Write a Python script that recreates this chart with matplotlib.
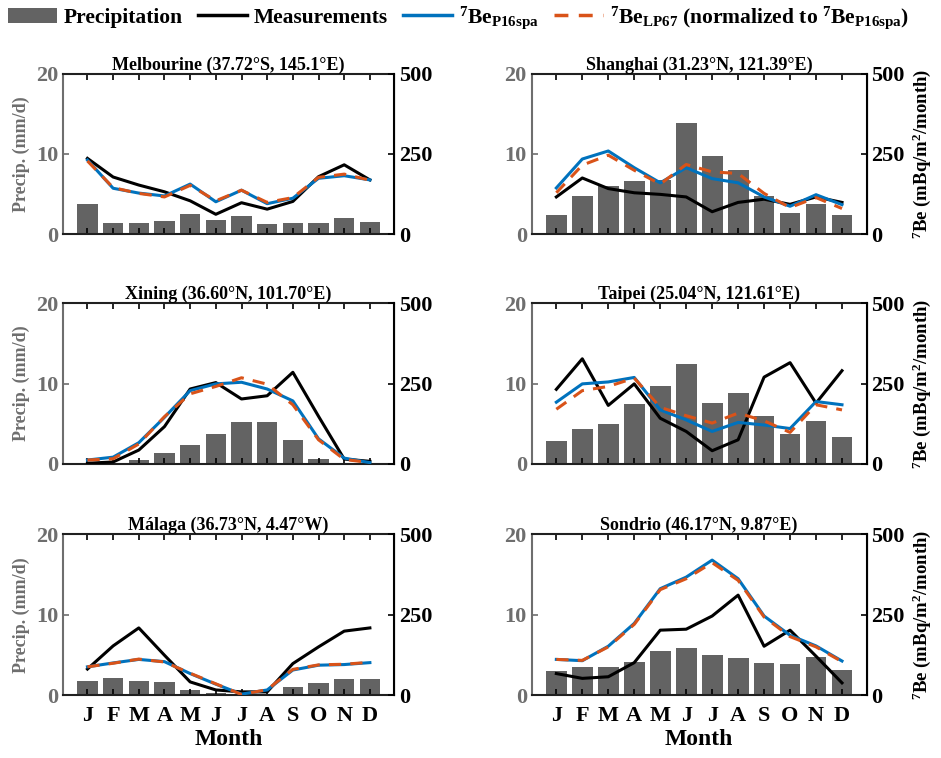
import matplotlib
matplotlib.use('Agg')
import matplotlib.pyplot as plt
from matplotlib.patches import Patch
from matplotlib.lines import Line2D
import numpy as np

plt.rcParams['font.family'] = ['Liberation Serif', 'DejaVu Serif']
plt.rcParams['font.weight'] = 'bold'
plt.rcParams['mathtext.fontset'] = 'custom'
plt.rcParams['mathtext.rm'] = 'Liberation Serif:bold'
plt.rcParams['mathtext.bf'] = 'Liberation Serif:bold'
plt.rcParams['mathtext.it'] = 'Liberation Serif:bold'
plt.rcParams['mathtext.default'] = 'rm'

months = ['J', 'F', 'M', 'A', 'M', 'J', 'J', 'A', 'S', 'O', 'N', 'D']

titles = ['Melbourine (37.72°S, 145.1°E)', 'Shanghai (31.23°N, 121.39°E)',
          'Xining (36.60°N, 101.70°E)', 'Taipei (25.04°N, 121.61°E)',
          'Málaga (36.73°N, 4.47°W)', 'Sondrio (46.17°N, 9.87°E)']

# precipitation (mm/d)
precip_melbourne = [3.7, 1.4, 1.4, 1.7, 2.5, 1.8, 2.3, 1.25, 1.4, 1.4, 2.0, 1.5]
precip_shanghai = [2.45, 4.7, 6.0, 6.6, 6.8, 13.9, 9.75, 7.95, 4.8, 2.7, 3.7, 2.4]
precip_xining = [0.05, 0.1, 0.5, 1.4, 2.3, 3.7, 5.2, 5.2, 3.0, 0.65, 0.0, 0.0]
precip_taipei = [2.9, 4.4, 5.0, 7.5, 9.75, 12.4, 7.55, 8.8, 6.0, 3.75, 5.4, 3.3]
precip_malaga = [1.8, 2.1, 1.8, 1.6, 0.65, 0.3, 0.1, 0.0, 0.95, 1.55, 1.95, 2.05]
precip_sondrio = [3.0, 3.45, 3.5, 4.1, 5.45, 5.9, 4.95, 4.6, 3.95, 3.85, 4.7, 3.1]

# measured 7Be deposition (mBq/m2/month)
meas_melbourne = [236, 178, 153, 132, 104, 62, 98, 78, 102, 179, 216, 169]
meas_shanghai = [116, 175, 142, 129, 124, 116, 70, 99, 109, 93, 116, 99]
meas_xining = [2, 6, 43, 116, 233, 253, 202, 212, 285, 148, 15, 8]
meas_taipei = [232, 327, 182, 249, 142, 101, 41, 75, 270, 315, 189, 290]
meas_malaga = [81, 153, 209, 124, 41, 16, 10, 10, 98, 150, 199, 209]
meas_sondrio = [67, 52, 57, 101, 202, 205, 246, 311, 152, 202, 121, 38]

# modelled 7Be, P16spa scheme
p16_melbourne = [231, 143, 128, 119, 156, 101, 137, 95, 112, 174, 182, 169]
p16_shanghai = [144, 234, 259, 207, 160, 207, 173, 160, 116, 87, 123, 92]
p16_xining = [12, 21, 66, 145, 228, 249, 254, 233, 196, 78, 18, 4]
p16_taipei = [192, 249, 255, 269, 168, 137, 101, 129, 121, 110, 194, 184]
p16_malaga = [88, 100, 111, 104, 67, 34, 3, 16, 78, 93, 95, 101]
p16_sondrio = [111, 107, 152, 223, 331, 367, 420, 362, 246, 186, 153, 106]

# modelled 7Be, LP67 scheme (normalized to P16spa)
lp67_melbourne = [228, 145, 127, 116, 152, 104, 137, 99, 114, 177, 187, 168]
lp67_shanghai = [129, 215, 246, 199, 156, 217, 194, 189, 127, 83, 114, 80]
lp67_xining = [12, 16, 62, 147, 218, 241, 268, 248, 184, 75, 14, 4]
lp67_taipei = [170, 228, 241, 267, 176, 150, 127, 158, 134, 98, 184, 168]
lp67_malaga = [88, 99, 112, 103, 68, 35, 2, 17, 80, 94, 96, 102]
lp67_sondrio = [111, 108, 150, 220, 328, 362, 412, 357, 243, 182, 150, 104]

precip = [precip_melbourne, precip_shanghai, precip_xining,
          precip_taipei, precip_malaga, precip_sondrio]
meas = [meas_melbourne, meas_shanghai, meas_xining,
        meas_taipei, meas_malaga, meas_sondrio]
p16 = [p16_melbourne, p16_shanghai, p16_xining,
       p16_taipei, p16_malaga, p16_sondrio]
lp67 = [lp67_melbourne, lp67_shanghai, lp67_xining,
        lp67_taipei, lp67_malaga, lp67_sondrio]

bar_color = '#636363'
gray_axis = '#6e6e6e'
blue = '#0072BD'
orange = '#D95319'

fig = plt.figure(figsize=(9.41, 7.58), dpi=100)

lefts = [0.067, 0.565]
widths = [0.352, 0.356]
bottoms = [0.691, 0.388, 0.083]
h = 0.212

x = np.arange(1, 13)
for i in range(6):
    row, col = i // 2, i % 2
    ax = fig.add_axes([lefts[col], bottoms[row], widths[col], h])
    ax.bar(x, precip[i], width=0.8, color=bar_color, zorder=1)
    ax.set_xlim(0.05, 12.95)
    ax.set_ylim(0, 20)
    ax.set_yticks([0, 10, 20])
    ax.set_xticks(x)
    ax.tick_params(axis='x', direction='in', top=True, length=4, width=1.2,
                   labelsize=16, pad=8)
    ax.tick_params(axis='y', direction='in', length=4, width=1.2,
                   labelsize=16, colors=gray_axis)
    if row == 2:
        ax.set_xticklabels(months)
        ax.set_xlabel('Month', fontsize=17, fontweight='bold', labelpad=2)
    else:
        ax.set_xticklabels([])
    for s in ['top', 'bottom']:
        ax.spines[s].set_color('#202020')
        ax.spines[s].set_linewidth(1.5)
    ax.spines['left'].set_color(gray_axis)
    ax.spines['left'].set_linewidth(1.5)
    if col == 0:
        ax.set_ylabel('Precip. (mm/d)', fontsize=13, fontweight='bold',
                      color=gray_axis, labelpad=4)
    ax.set_title(titles[i], fontsize=13, fontweight='bold', pad=2)

    ax2 = ax.twinx()
    ax2.plot(x, meas[i], color='black', lw=2.2)
    ax2.plot(x, p16[i], color=blue, lw=2.2)
    ax2.plot(x, lp67[i], color=orange, lw=2.2, dashes=(4, 3))
    ax2.set_ylim(0, 500)
    ax2.set_yticks([0, 250, 500])
    ax2.tick_params(axis='y', direction='in', length=4, width=1.2,
                    labelsize=16, colors='black')
    ax2.spines['right'].set_color('black')
    ax2.spines['right'].set_linewidth(1.5)
    ax2.spines['left'].set_visible(False)
    ax2.spines['top'].set_visible(False)
    ax2.spines['bottom'].set_visible(False)
    if col == 1:
        ax2.set_ylabel(r'$^{7}$Be (mBq/m$^{2}$/month)', fontsize=13.5,
                       fontweight='bold', labelpad=4)

handles = [
    Patch(facecolor=bar_color, edgecolor='none'),
    Line2D([], [], color='black', lw=2.5),
    Line2D([], [], color=blue, lw=2.5),
    Line2D([], [], color=orange, lw=2.5, dashes=(4, 3)),
]
labels = ['Precipitation', 'Measurements', r'$^{7}$Be$_{\mathrm{P16spa}}$',
          r'$^{7}$Be$_{\mathrm{LP67}}$ (normalized to $^{7}$Be$_{\mathrm{P16spa}}$)']
fig.legend(handles, labels, loc='upper center', bbox_to_anchor=(0.487, 1.02),
           ncol=4, frameon=False, fontsize=15.5, handlelength=2.3,
           handletextpad=0.3, columnspacing=0.7)

fig.savefig('out.png', dpi=100)
